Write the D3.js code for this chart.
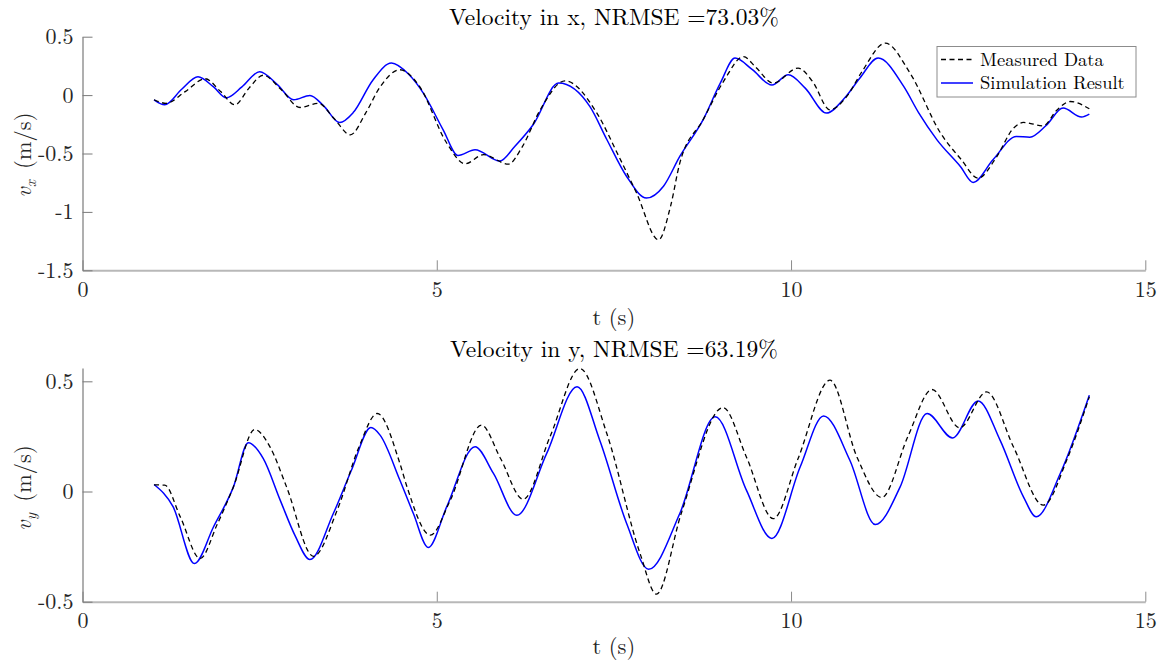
<!DOCTYPE html>
<html>
<head>
<meta charset="utf-8">
<script src="https://cdn.jsdelivr.net/npm/d3@7"></script>
<style>
  html, body { margin: 0; padding: 0; background: #fff; }
  svg { display: block; }
  text { font-family: "Latin Modern Roman", "CMU Serif", "Liberation Serif", serif; }
</style>
</head>
<body>
<div id="chart"></div>
<script>
// top panel: velocity in x
const tMeasX = [1.01, 1.18, 1.45, 1.73, 1.95, 2.15, 2.35, 2.55, 2.8, 3.07, 3.33, 3.55, 3.78, 4.0, 4.2, 4.48, 4.75, 5.14, 5.40, 5.66, 6.01, 6.2, 6.46, 6.81, 7.26, 7.55, 7.82, 8.13, 8.3, 8.43, 8.76, 9.05, 9.33, 9.5, 9.75, 10.10, 10.3, 10.55, 10.8, 11.0, 11.33, 11.68, 12.11, 12.4, 12.64, 12.9, 13.14, 13.28, 13.56, 13.75, 13.94, 14.21];
const measX  = [-0.04, -0.07, 0.03, 0.14, 0.03, -0.083, 0.06, 0.17, 0.05, -0.106, -0.07, -0.2, -0.34, -0.15, 0.07, 0.217, 0.08, -0.41, -0.588, -0.51, -0.591, -0.45, -0.126, 0.122, -0.154, -0.5, -0.839, -1.239, -0.95, -0.582, -0.21, 0.12, 0.33, 0.24, 0.103, 0.231, 0.12, -0.126, 0.0, 0.2, 0.445, 0.188, -0.325, -0.55, -0.711, -0.53, -0.283, -0.234, -0.263, -0.13, -0.055, -0.117];

const tSimX = [1.01, 1.16, 1.4, 1.63, 1.85, 2.03, 2.25, 2.50, 2.75, 2.98, 3.21, 3.4, 3.63, 3.82, 4.1, 4.36, 4.6, 4.81, 5.09, 5.30, 5.54, 5.89, 6.1, 6.36, 6.72, 7.16, 7.4, 7.68, 7.96, 8.2, 8.43, 8.76, 9.0, 9.21, 9.45, 9.73, 9.96, 10.2, 10.50, 10.75, 10.97, 11.23, 11.59, 11.8, 12.06, 12.39, 12.57, 12.85, 13.18, 13.37, 13.6, 13.84, 14.10, 14.21];
const simX  = [-0.04, -0.083, 0.05, 0.157, 0.07, -0.023, 0.07, 0.2, 0.09, -0.04, -0.003, -0.09, -0.235, -0.15, 0.13, 0.274, 0.18, 0.017, -0.297, -0.517, -0.468, -0.565, -0.44, -0.254, 0.103, -0.097, -0.38, -0.697, -0.882, -0.78, -0.525, -0.21, 0.1, 0.317, 0.22, 0.086, 0.174, 0.06, -0.154, -0.03, 0.145, 0.317, 0.074, -0.15, -0.383, -0.611, -0.748, -0.554, -0.354, -0.36, -0.26, -0.111, -0.188, -0.163];

// bottom panel: velocity in y
const tMeasY = [1.01, 1.16, 1.38, 1.66, 1.9, 2.13, 2.43, 2.65, 2.88, 3.26, 3.6, 3.9, 4.16, 4.48, 4.58, 4.91, 5.19, 5.63, 5.9, 6.22, 6.6, 7.02, 7.40, 7.87, 8.10, 8.45, 9.04, 9.37, 9.75, 10.1, 10.55, 10.93, 11.28, 11.65, 11.99, 12.38, 12.76, 13.14, 13.56, 13.9, 14.21];
const measY  = [0.03, 0.029, -0.115, -0.304, -0.15, 0.021, 0.281, 0.2, 0.021, -0.294, -0.08, 0.2, 0.354, 0.127, 0.021, -0.198, -0.04, 0.301, 0.15, -0.035, 0.25, 0.558, 0.263, -0.282, -0.466, -0.1, 0.381, 0.157, -0.123, 0.15, 0.505, 0.157, -0.027, 0.25, 0.463, 0.289, 0.452, 0.202, -0.062, 0.15, 0.43];

const tSimY = [1.01, 1.28, 1.58, 1.85, 2.13, 2.34, 2.55, 2.79, 3.0, 3.21, 3.54, 3.8, 4.07, 4.2, 4.48, 4.67, 4.88, 5.14, 5.54, 5.80, 6.13, 6.55, 6.98, 7.3, 7.68, 7.99, 8.43, 8.93, 9.37, 9.73, 10.13, 10.46, 10.83, 11.19, 11.54, 11.92, 12.28, 12.64, 12.95, 13.28, 13.46, 13.80, 14.21];
const simY  = [0.032, -0.07, -0.327, -0.16, 0.021, 0.221, 0.15, -0.039, -0.2, -0.309, -0.1, 0.1, 0.29, 0.256, 0.051, -0.1, -0.254, -0.07, 0.203, 0.082, -0.108, 0.172, 0.475, 0.233, -0.145, -0.353, -0.1, 0.339, 0.006, -0.213, 0.112, 0.343, 0.142, -0.15, 0.021, 0.354, 0.243, 0.411, 0.233, -0.024, -0.115, 0.082, 0.437];

const xTicks = [0, 5, 10, 15];
const yTicksX = [0.5, 0, -0.5, -1, -1.5];
const yTickLabelsX = ["0.5", "0", "-0.5", "-1", "-1.5"];
const yTicksY = [0.5, 0, -0.5];
const yTickLabelsY = ["0.5", "0", "-0.5"];
const titles = ["Velocity in x, NRMSE =73.03%", "Velocity in y, NRMSE =63.19%"];
const legendLabels = ["Measured Data", "Simulation Result"];

const width = 1166, height = 668;
const svg = d3.select("#chart").append("svg")
  .attr("width", width)
  .attr("height", height);

const x = d3.scaleLinear().domain([0, 15]).range([82.5, 1145.3]);

const panels = [
  {
    y: d3.scaleLinear().domain([-1.5, 0.5]).range([270.3, 36.7]),
    ticks: yTicksX, tickLabels: yTickLabelsX,
    meas: tMeasX.map((t, i) => [t, measX[i]]),
    sim: tSimX.map((t, i) => [t, simX[i]]),
    title: titles[0], titleY: 25, xLabelY: 325, tickLabelY: 297,
    yLabel: "x", yLabelX: 31, yLabelY: 155, legend: true
  },
  {
    y: d3.scaleLinear().domain([-0.5, 0.56]).range([601.7, 368.1]),
    ticks: yTicksY, tickLabels: yTickLabelsY,
    meas: tMeasY.map((t, i) => [t, measY[i]]),
    sim: tSimY.map((t, i) => [t, simY[i]]),
    title: titles[1], titleY: 357, xLabelY: 654, tickLabelY: 628,
    yLabel: "y", yLabelX: 31, yLabelY: 488, legend: false
  }
];

const tickColor = "#262626";

panels.forEach(p => {
  const g = svg.append("g");
  const [yBottom, yTop] = p.y.range();

  // axes
  const xAxis = g.append("g")
    .attr("transform", `translate(0,${yBottom})`)
    .call(d3.axisBottom(x).tickValues(xTicks).tickSizeInner(-10).tickSizeOuter(0).tickPadding(14));
  xAxis.select(".domain").attr("stroke", "#b8b8b8").attr("stroke-width", 2);
  xAxis.selectAll(".tick line").attr("stroke", "#8c8c8c");
  xAxis.selectAll(".tick text")
    .attr("fill", tickColor)
    .attr("font-size", 22)
    .attr("y", null).attr("dy", null)
    .attr("transform", `translate(0,${p.tickLabelY - yBottom})`);

  const yAxis = g.append("g")
    .attr("transform", `translate(${x.range()[0]},0)`)
    .call(d3.axisLeft(p.y).tickValues(p.ticks)
      .tickFormat((d, i) => p.tickLabels[i])
      .tickSizeInner(-10).tickSizeOuter(0).tickPadding(9));
  yAxis.select(".domain").attr("stroke", "#7a7a7a").attr("stroke-width", 1.2);
  yAxis.selectAll(".tick line").attr("stroke", "#7a7a7a");
  yAxis.selectAll(".tick text")
    .attr("fill", tickColor)
    .attr("font-size", 22);

  // lines
  const line = d3.line()
    .x(d => x(d[0]))
    .y(d => p.y(d[1]))
    .curve(d3.curveMonotoneX);

  g.append("path")
    .datum(p.sim)
    .attr("fill", "none")
    .attr("stroke", "#0000ff")
    .attr("stroke-width", 1.5)
    .attr("d", line);

  g.append("path")
    .datum(p.meas)
    .attr("fill", "none")
    .attr("stroke", "#000")
    .attr("stroke-width", 1.3)
    .attr("stroke-dasharray", "5,3.5")
    .attr("d", line);

  // title
  g.append("text")
    .attr("x", (x.range()[0] + x.range()[1]) / 2)
    .attr("y", p.titleY)
    .attr("text-anchor", "middle")
    .attr("font-size", 23.5)
    .attr("fill", "#000")
    .text(p.title);

  // x label
  g.append("text")
    .attr("x", (x.range()[0] + x.range()[1]) / 2)
    .attr("y", p.xLabelY)
    .attr("text-anchor", "middle")
    .attr("font-size", 22.5)
    .attr("fill", tickColor)
    .text("t (s)");

  // y label
  const yl = g.append("text")
    .attr("transform", `translate(${p.yLabelX},${p.yLabelY}) rotate(-90)`)
    .attr("text-anchor", "middle")
    .attr("font-size", 22.5)
    .attr("fill", tickColor);
  yl.append("tspan").attr("font-style", "italic").text("v");
  yl.append("tspan").attr("font-style", "italic").attr("font-size", 15).attr("dy", 5).text(p.yLabel);
  yl.append("tspan").attr("dy", -5).text("\u00a0(m/s)");

  if (p.legend) {
    const lg = g.append("g");
    lg.append("rect")
      .attr("x", 937).attr("y", 46.5)
      .attr("width", 199).attr("height", 50.5)
      .attr("fill", "#fff")
      .attr("stroke", "#8c8c8c")
      .attr("stroke-width", 1);
    legendLabels.forEach((lab, i) => {
      const ly = 59.5 + i * 23.5;
      lg.append("line")
        .attr("x1", 941).attr("x2", 973)
        .attr("y1", ly).attr("y2", ly)
        .attr("stroke", i === 0 ? "#000" : "#0000ff")
        .attr("stroke-width", i === 0 ? 1.3 : 1.5)
        .attr("stroke-dasharray", i === 0 ? "5,3.5" : null);
      lg.append("text")
        .attr("x", 980).attr("y", ly + 6)
        .attr("font-size", 18.5)
        .attr("fill", "#000")
        .text(lab);
    });
  }
});
</script>
</body>
</html>
